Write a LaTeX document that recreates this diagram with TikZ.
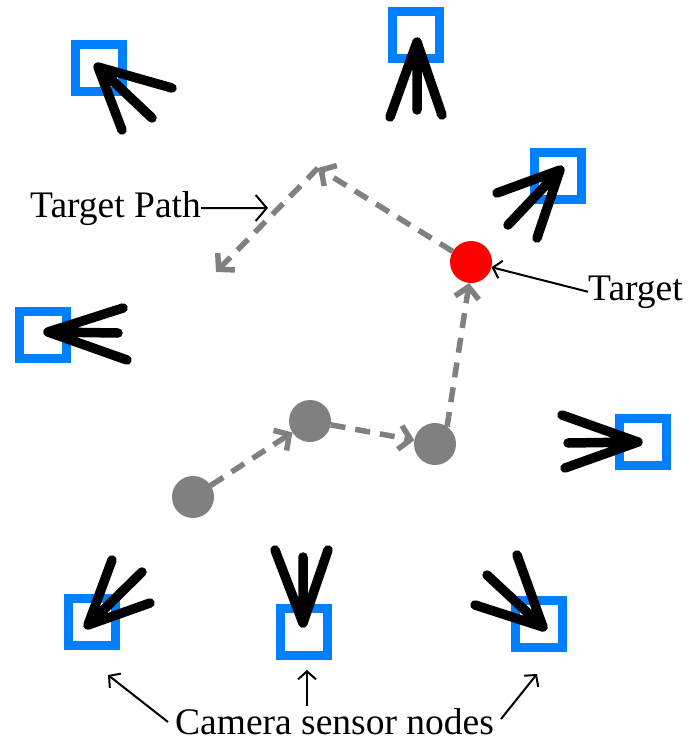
\documentclass[tikz,border=0pt]{standalone}
\usepackage{fontspec}
\setmainfont{Liberation Serif}
\usetikzlibrary{arrows.meta}
\definecolor{camblue}{RGB}{0,128,255}
\definecolor{pathgray}{RGB}{128,128,128}
\definecolor{targetred}{RGB}{255,0,0}

\begin{document}
\begin{tikzpicture}[x=1pt,y=-1pt,
  cam/.style={draw=camblue, line width=9.5pt, minimum size=47pt, inner sep=0pt, outer sep=0pt},
  fan/.style={line width=9.5pt, line cap=round, line join=round},
  spot/.style={circle, fill=pathgray, minimum size=42pt, inner sep=0pt, outer sep=0pt},
  trail/.style={draw=pathgray, line width=5.5pt, dash pattern=on 15pt off 10pt,
    -{Straight Barb[length=11pt,width=24pt,line width=5.5pt]}},
  caption/.style={font=\fontsize{37.5}{42}\selectfont, inner sep=0pt},
  pointer/.style={line width=2pt, -{Straight Barb[length=8pt,width=18pt]}}
]
\useasboundingbox (0,0) rectangle (689,744);

% camera sensor nodes
\node[cam] (k1) at (99,68) {};
\node[cam] (k2) at (416,35) {};
\node[cam] (k3) at (558,176) {};
\node[cam] (k4) at (43,335) {};
\node[cam] (k5) at (643,442) {};
\node[cam] (k6) at (92,622) {};
\node[cam] (k7) at (304,632) {};
\node[cam] (k8) at (539,624) {};

% viewing fans
\draw[fan] (172,88) -- (98,67) -- (152,118) (98,67) -- (122,130);
\draw[fan] (390,117) -- (417,42) -- (417,110) (417,42) -- (442,115);
\draw[fan] (497,193) -- (560,170) -- (508,225) (560,170) -- (537,238);
\draw[fan] (123,308) -- (48,332) -- (118,333) (48,332) -- (127,360);
\draw[fan] (562,415) -- (638,442) -- (568,443) (638,442) -- (565,468);
\draw[fan] (112,560) -- (88,625) -- (142,572) (88,625) -- (150,603);
\draw[fan] (275,550) -- (303,623) -- (303,557) (303,623) -- (328,550);
\draw[fan] (517,555) -- (543,627) -- (487,575) (543,627) -- (475,605);

% target and its earlier positions
\node[spot] (p1) at (193,497) {};
\node[spot] (p2) at (310,421) {};
\node[spot] (p3) at (435,444) {};
\node[circle, fill=targetred, minimum size=42pt, inner sep=0pt] (tg) at (471,262) {};
\coordinate (v1) at (318,168);
\coordinate (v2) at (216,272);

% target path
\draw[trail] (p1) -- (p2);
\draw[trail] (p2) -- (p3);
\draw[trail] (p3.55) -- (tg.265);
\draw[trail] (tg.150) -- (v1);
\draw[trail] (v1) -- (v2);

% labels
\node[caption, anchor=base west] (tpl) at (30,217) {Target Path};
\coordinate (tpt) at (268,208);
\draw[line width=2pt, -{Straight Barb[length=11pt,width=26pt]}] (tpl.east) -- (tpt);

\node[caption, anchor=base west] (tgl) at (588,300) {Target};
\draw[pointer] (tgl.west) -- (tg);

\node[caption, anchor=base west] (csl) at (175,734) {Camera sensor nodes};
\coordinate (c6tip) at (108,675);
\coordinate (c7tip) at (307,670);
\coordinate (c8tip) at (537,674);
\coordinate (c6tail) at (168,722);
\coordinate (c7tail) at (307,706);
\coordinate (c8tail) at (501,719);
\draw[pointer] (c6tail) -- (c6tip);
\draw[pointer] (c7tail) -- (c7tip);
\draw[pointer] (c8tail) -- (c8tip);
\end{tikzpicture}
\end{document}
